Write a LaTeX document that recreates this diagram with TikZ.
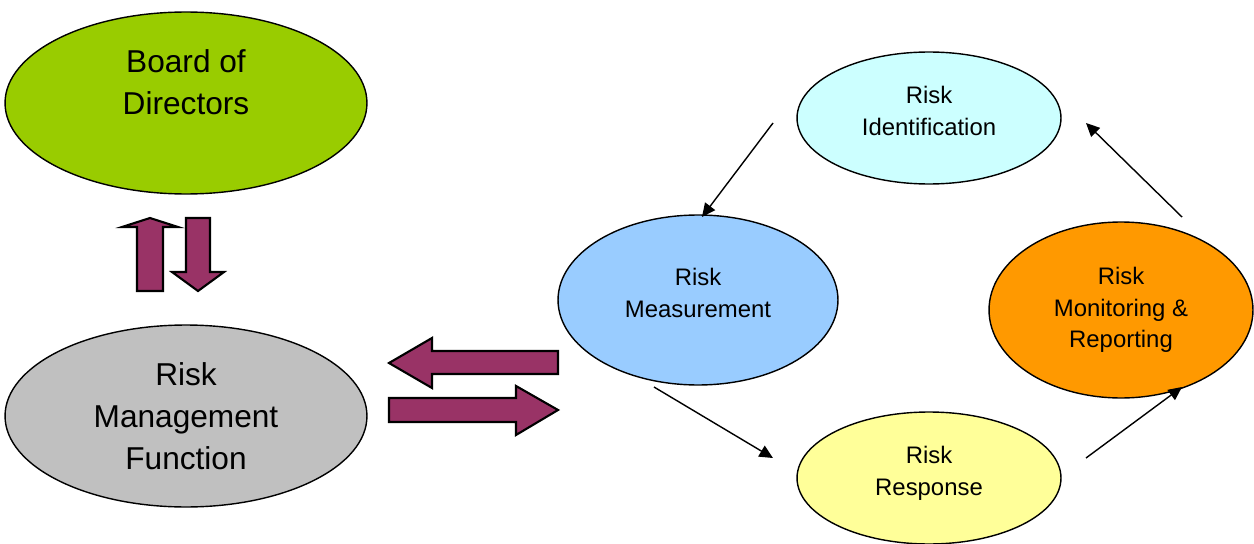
\documentclass[tikz,border=0pt]{standalone}
\usepackage{fontspec}
\setmainfont{Liberation Sans}
\usepackage{xcolor}
\usepackage{tikz}
\usetikzlibrary{arrows.meta,shapes.geometric}

\definecolor{boardgreen}{HTML}{99CC00}
\definecolor{rmfgray}{HTML}{C0C0C0}
\definecolor{identcyan}{HTML}{CCFFFF}
\definecolor{measblue}{HTML}{99CCFF}
\definecolor{monorange}{HTML}{FF9900}
\definecolor{respyellow}{HTML}{FFFF99}
\definecolor{arrowplum}{HTML}{993366}

\tikzset{
    bigoval/.style={ellipse, draw=black, line width=0.8pt, inner sep=0pt, align=center,
        minimum width=7.24cm, minimum height=3.64cm, font=\fontsize{18}{23.8}\selectfont},
    cycleoval/.style={ellipse, draw=black, line width=0.8pt, inner sep=0pt, align=center,
        minimum width=5.28cm, minimum height=2.64cm, font=\fontsize{13.6}{18.1}\selectfont},
    blockarrow/.style={fill=arrowplum, draw=black, line width=1.2pt, line join=miter},
    flow/.style={-{Triangle[length=0.27cm,width=0.25cm]}, line width=0.8pt}
}

\begin{document}
\begin{tikzpicture}[x=0.02cm, y=-0.02cm]
    \useasboundingbox (0,0) rectangle (1254,544);

    % Left side: board and risk function
    \node[bigoval, fill=boardgreen] (board) at (186,103) {Board of\\Directors\\\mbox{}};
    \node[bigoval, fill=rmfgray] (rmf) at (186,416) {Risk\\Management\\Function};

    % Block arrows between board and function
    \draw[blockarrow] (150,218) -- (178,227) -- (163,227) -- (163,291) -- (137,291)
        -- (137,227) -- (122,227) -- cycle;
    \draw[blockarrow] (186,218) -- (210,218) -- (210,272) -- (224,272) -- (198,291)
        -- (172,272) -- (186,272) -- cycle;

    % Block arrows between function and cycle
    \draw[blockarrow] (389,363) -- (432,338) -- (432,351) -- (558,351) -- (558,374)
        -- (432,374) -- (432,388) -- cycle;
    \draw[blockarrow] (389,398) -- (516,398) -- (516,386) -- (558,410) -- (516,435)
        -- (516,422) -- (389,422) -- cycle;

    % Risk cycle
    \node[cycleoval, fill=identcyan] (ident) at (929,118) {Risk\\Identification\\[-10pt]\mbox{}};
    \node[cycleoval, fill=measblue, minimum width=5.6cm, minimum height=3.4cm] (meas) at (698,300) {Risk\\Measurement\\[-10pt]\mbox{}};
    \node[cycleoval, fill=monorange, minimum height=3.52cm] (monitor) at (1121,310) {Risk\\Monitoring \&\\Reporting};
    \node[cycleoval, fill=respyellow] (resp) at (929,478) {Risk\\Response\\[-10pt]\mbox{}};

    % Cycle arrows
    \coordinate (identOut) at (773,123);
    \coordinate (measIn) at (702,217);
    \coordinate (measOut) at (654,387);
    \coordinate (respIn) at (773,458);
    \coordinate (respOut) at (1086,458);
    \coordinate (monIn) at (1182,387);
    \coordinate (monOut) at (1182,217);
    \coordinate (identIn) at (1086,123);
    \draw[flow] (identOut) -- (measIn);
    \draw[flow] (measOut) -- (respIn);
    \draw[flow] (respOut) -- (monIn);
    \draw[flow] (monOut) -- (identIn);
\end{tikzpicture}
\end{document}
